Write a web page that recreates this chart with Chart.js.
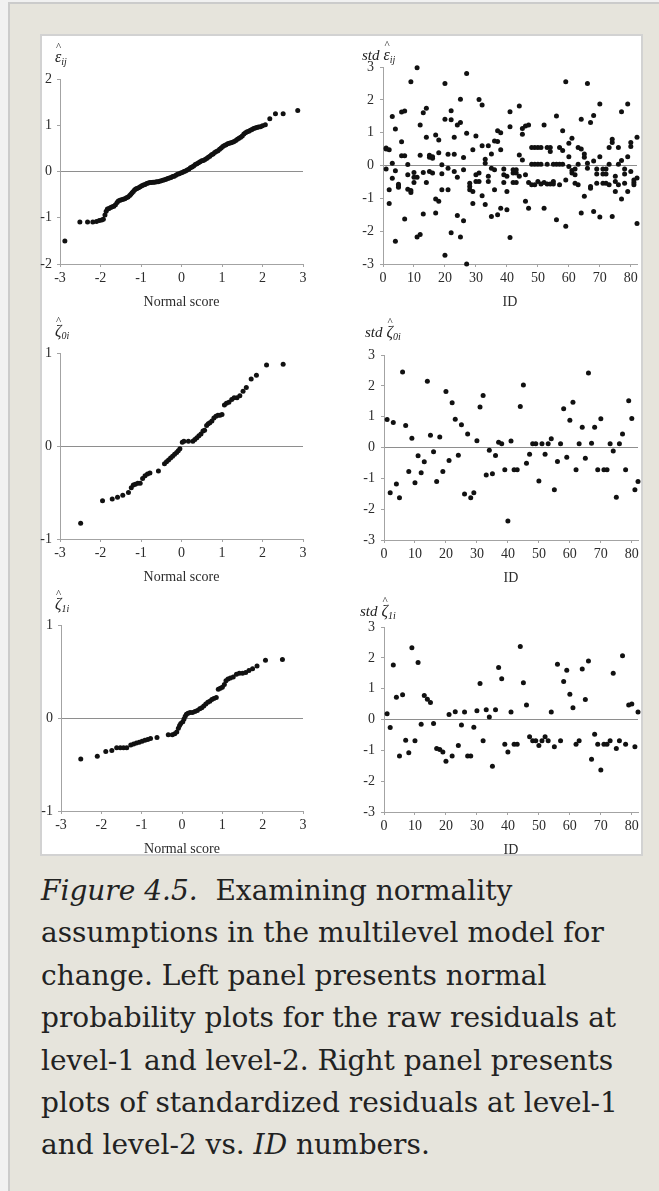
<!DOCTYPE html>
<html>
<head>
<meta charset="utf-8">
<title>Figure 4.5</title>
<script src="https://cdn.jsdelivr.net/npm/chart.js"></script>
<style>
  html, body { margin: 0; padding: 0; }
  body { width: 659px; height: 1191px; overflow: hidden; position: relative; background: #f1f1f1; }
  #page { position: absolute; left: 8px; top: 2px; width: 700px; height: 1250px; background: #e6e4dc;
          border-left: 2px solid #cbcbcb; border-top: 2px solid #cbcbcb; }
  #figure { position: absolute; left: 40px; top: 34px; width: 599px; height: 818px; background: #fff;
            border: 2px solid #d2d2d2; }
  canvas { position: absolute; }
  .ylab { position: absolute; font: italic 16px/16px "Liberation Serif", serif; color: #222; white-space: nowrap; }
  .ylab .std { font-size: 15px; }
  .ylab .g { position: relative; }
  .ylab .hat { position: absolute; left: 1px; top: -7px; font: normal 11px/11px "Liberation Serif", serif; }
  .ylab sub { font-size: 10px; line-height: 0; vertical-align: -3px; }
  #caption { position: absolute; left: 41px; top: 870px; width: 601px; font: 28px/42.4px "DejaVu Serif", serif; color: #222; }
</style>
</head>
<body>
<div id="page"></div>
<div id="figure"></div>

<canvas id="epsQQ"></canvas>
<canvas id="epsById"></canvas>
<canvas id="zeta0QQ"></canvas>
<canvas id="zeta0ById"></canvas>
<canvas id="zeta1QQ"></canvas>
<canvas id="zeta1ById"></canvas>

<div class="ylab" style="left:55px;top:49px"><span class="g">ε<span class="hat">^</span></span><sub>ij</sub></div>
<div class="ylab" style="left:362px;top:47px"><span class="std">std</span> <span class="g">ε<span class="hat">^</span></span><sub>ij</sub></div>
<div class="ylab" style="left:55px;top:323px"><span class="g">ζ<span class="hat">^</span></span><sub>0i</sub></div>
<div class="ylab" style="left:365px;top:324px"><span class="std">std</span> <span class="g">ζ<span class="hat">^</span></span><sub>0i</sub></div>
<div class="ylab" style="left:55px;top:596px"><span class="g">ζ<span class="hat">^</span></span><sub>1i</sub></div>
<div class="ylab" style="left:360px;top:603px"><span class="std">std</span> <span class="g">ζ<span class="hat">^</span></span><sub>1i</sub></div>

<div id="caption"><i>Figure 4.5.</i>&nbsp; Examining normality assumptions in the multilevel model for change. Left panel presents normal probability plots for the raw residuals at level-1 and level-2. Right panel presents plots of standardized residuals at level-1 and level-2 vs. <i>ID</i> numbers.</div>

<script>
// level-1 raw residuals against their normal scores
var epsScore = [
  -2.88, -2.51, -2.32, -2.19, -2.10, -2.03, -1.97, -1.93, -1.89, -1.86,
  -1.83, -1.79, -1.75, -1.71, -1.67, -1.63, -1.59, -1.56, -1.52, -1.48,
  -1.44, -1.40, -1.36, -1.32, -1.28, -1.25, -1.22, -1.19, -1.16, -1.13,
  -1.10, -1.06, -1.02, -0.98, -0.94, -0.90, -0.86, -0.82, -0.78, -0.74,
  -0.70, -0.66, -0.62, -0.58, -0.54, -0.50, -0.46, -0.42, -0.38, -0.34,
  -0.30, -0.26, -0.22, -0.18, -0.14, -0.10, -0.06, -0.02, 0.02, 0.06,
  0.10, 0.14, 0.18, 0.22, 0.26, 0.30, 0.34, 0.38, 0.42, 0.46,
  0.50, 0.54, 0.58, 0.62, 0.66, 0.70, 0.74, 0.78, 0.82, 0.86,
  0.90, 0.94, 0.98, 1.02, 1.06, 1.10, 1.14, 1.18, 1.22, 1.26,
  1.30, 1.34, 1.38, 1.42, 1.46, 1.50, 1.54, 1.58, 1.62, 1.66,
  1.70, 1.74, 1.78, 1.82, 1.86, 1.90, 1.95, 2.00, 2.07, 2.18,
  2.32, 2.51, 2.87
];
var epsRaw = [
  -1.50, -1.09, -1.09, -1.09, -1.08, -1.06, -1.05, -1.03, -0.94, -0.86,
  -0.81, -0.80, -0.78, -0.76, -0.75, -0.72, -0.67, -0.64, -0.62, -0.61,
  -0.60, -0.59, -0.57, -0.55, -0.52, -0.49, -0.46, -0.43, -0.40, -0.38,
  -0.37, -0.35, -0.33, -0.31, -0.29, -0.28, -0.26, -0.25, -0.24, -0.24,
  -0.23, -0.23, -0.22, -0.22, -0.21, -0.20, -0.19, -0.18, -0.17, -0.15,
  -0.14, -0.13, -0.11, -0.10, -0.08, -0.06, -0.05, -0.03, -0.02, 0.00,
  0.01, 0.03, 0.05, 0.08, 0.10, 0.12, 0.15, 0.17, 0.19, 0.21,
  0.23, 0.24, 0.26, 0.28, 0.31, 0.33, 0.36, 0.38, 0.41, 0.43,
  0.45, 0.48, 0.51, 0.54, 0.56, 0.58, 0.60, 0.61, 0.62, 0.63,
  0.65, 0.67, 0.70, 0.72, 0.74, 0.77, 0.81, 0.84, 0.86, 0.87,
  0.89, 0.91, 0.93, 0.94, 0.95, 0.96, 0.97, 0.99, 1.01, 1.14,
  1.25, 1.25, 1.32
];

// level-2 residuals (initial status, rate of change) against normal scores
var zeta0Score = [
  -2.49, -1.95, -1.71, -1.58, -1.45, -1.31, -1.24, -1.19, -1.14, -1.08,
  -1.02, -0.96, -0.90, -0.84, -0.78, -0.57, -0.42, -0.37, -0.32, -0.27,
  -0.22, -0.17, -0.12, -0.08, -0.04, 0.02, 0.06, 0.17, 0.28, 0.33,
  0.38, 0.43, 0.48, 0.53, 0.57, 0.62, 0.66, 0.70, 0.75, 0.80,
  0.85, 0.90, 0.95, 1.00, 1.06, 1.11, 1.17, 1.24, 1.30, 1.37,
  1.44, 1.52, 1.60, 1.72, 1.85, 2.10, 2.51
];
var zeta0Raw = [
  -0.83, -0.59, -0.57, -0.55, -0.53, -0.50, -0.45, -0.42, -0.41, -0.40,
  -0.40, -0.35, -0.32, -0.30, -0.29, -0.27, -0.19, -0.17, -0.15, -0.13,
  -0.11, -0.09, -0.07, -0.05, -0.03, 0.04, 0.05, 0.05, 0.05, 0.07,
  0.09, 0.11, 0.13, 0.16, 0.17, 0.22, 0.24, 0.25, 0.27, 0.30,
  0.32, 0.33, 0.33, 0.34, 0.44, 0.46, 0.47, 0.50, 0.52, 0.52,
  0.54, 0.59, 0.63, 0.72, 0.76, 0.87, 0.88
];
var zeta1Score = [
  -2.51, -2.10, -1.89, -1.74, -1.62, -1.53, -1.45, -1.37, -1.27, -1.20,
  -1.13, -1.06, -0.99, -0.92, -0.85, -0.78, -0.62, -0.34, -0.24, -0.18,
  -0.13, -0.09, -0.06, -0.03, 0.02, 0.05, 0.08, 0.11, 0.15, 0.20,
  0.26, 0.32, 0.38, 0.44, 0.49, 0.54, 0.59, 0.64, 0.69, 0.74,
  0.79, 0.85, 0.90, 0.95, 1.00, 1.05, 1.09, 1.14, 1.20, 1.27,
  1.35, 1.42, 1.50, 1.58, 1.66, 1.75, 1.86, 2.07, 2.49
];
var zeta1Raw = [
  -0.44, -0.41, -0.36, -0.35, -0.32, -0.32, -0.32, -0.32, -0.29, -0.28,
  -0.27, -0.26, -0.25, -0.24, -0.23, -0.22, -0.21, -0.18, -0.18, -0.17,
  -0.15, -0.11, -0.08, -0.06, -0.04, -0.01, 0.02, 0.04, 0.05, 0.06,
  0.06, 0.07, 0.08, 0.10, 0.11, 0.13, 0.15, 0.17, 0.18, 0.20,
  0.21, 0.22, 0.31, 0.32, 0.33, 0.36, 0.40, 0.42, 0.43, 0.44,
  0.47, 0.48, 0.48, 0.49, 0.51, 0.53, 0.56, 0.62, 0.63
];

// standardized residuals by person ID
var ids = [
  1, 2, 3, 4, 5, 6, 7, 8, 9, 10, 11, 12, 13, 14, 15, 16, 17, 18, 19, 20,
  21, 22, 23, 24, 25, 26, 27, 28, 29, 30, 31, 32, 33, 34, 35, 36, 37, 38, 39, 40,
  41, 42, 43, 44, 45, 46, 47, 48, 49, 50, 51, 52, 53, 54, 55, 56, 57, 58, 59, 60,
  61, 62, 63, 64, 65, 66, 67, 68, 69, 70, 71, 72, 73, 74, 75, 76, 77, 78, 79, 80,
  81, 82
];
// three occasions per person for the level-1 residuals
var stdEps1 = [
  0.53, 0.48, 1.49, 1.11, -0.57, 1.63, 1.66, 0.03, 2.55, -0.21,
  2.98, 1.23, 1.61, 1.74, 0.31, 0.27, 0.93, 0.78, 0.02, 2.50,
  0.34, 1.67, 0.86, 1.23, 2.02, 0.24, 2.80, -0.54, 0.48, 0.90,
  2.01, 1.84, 0.19, 0.60, 0.35, 0.75, 1.06, 1.00, -0.11, -0.33,
  1.64, -0.13, -0.13, 1.81, 1.13, 1.20, 1.23, 0.55, 0.55, 0.55,
  0.55, 1.23, 0.55, 0.55, 0.04, 1.51, 0.55, 1.06, 2.55, 0.68,
  0.83, -0.11, 0.55, 1.41, 0.35, 2.50, 1.31, 1.52, -0.11, 1.87,
  -0.11, -0.11, 0.55, 0.80, -0.33, 0.55, 1.64, -0.11, 1.87, 0.70,
  -0.44, 0.86
];
var stdEps2 = [
  0.50, -0.74, 0.07, -0.16, -0.62, 0.72, 0.30, -0.28, -0.76, -0.36,
  -0.36, 0.31, -0.21, 0.86, 0.25, 0.22, -1.02, 0.39, -0.25, 1.41,
  -0.08, 1.39, 0.34, -0.36, 1.31, -0.13, 0.98, -0.64, -0.79, -0.28,
  -0.23, 0.60, 0.07, -0.33, -0.08, -0.13, 0.73, 0.48, -0.28, -0.79,
  1.18, -0.23, -0.23, 0.32, 0.95, -0.28, -0.52, 0.04, 0.04, 0.04,
  0.04, -0.52, 0.04, 0.43, -0.49, 0.04, 0.04, 0.46, -0.44, 0.27,
  -0.15, -0.28, 0.04, 0.50, 0.25, 0.07, -0.64, 0.14, -0.26, 0.27,
  -0.26, -0.26, 0.04, 0.70, -0.49, 0.04, 0.15, -0.26, 0.27, 0.58,
  -0.52, -0.38
];
var stdEps3 = [
  -0.11, -1.16, -0.39, -2.31, -0.66, 0.30, -1.63, -0.72, -0.82, -0.52,
  -2.18, -2.10, -1.48, -0.52, -0.18, -0.23, -1.45, -1.09, -0.74, -2.73,
  -0.74, -2.05, -0.18, -1.52, -2.18, -1.68, -3.00, -0.74, -1.16, -0.49,
  -0.49, -0.92, -1.19, -0.49, -1.55, -0.74, -1.50, -1.30, -0.52, -1.35,
  -2.19, -0.52, -0.52, -0.33, 0.17, -1.09, -1.30, -0.59, -0.59, -0.49,
  -0.56, -1.30, -0.56, -0.56, -0.56, -1.65, -0.59, 0.04, -1.85, -0.03,
  -0.23, -0.54, -0.59, -1.45, -0.94, -0.08, -0.69, -1.40, -0.54, -1.57,
  -0.54, -0.54, -0.59, -1.55, -0.79, -0.59, -1.02, -0.54, -0.79, -0.18,
  -0.59, -1.77
];
var stdZeta0 = [
  0.91, -1.47, 0.81, -1.18, -1.63, 2.45, 0.71, -0.78, 0.30, -1.14,
  -0.27, -0.82, -0.46, 2.15, 0.40, -0.14, -1.10, 0.34, -0.78, 1.82,
  -0.42, 1.45, 0.92, -0.25, 0.74, -1.51, 0.44, -1.63, -1.47, 0.22,
  1.31, 1.69, -0.89, -0.09, -0.85, -0.26, 0.17, 0.12, -0.72, -2.38,
  0.21, -0.72, -0.72, 1.33, 2.03, -0.51, -0.22, 0.12, 0.12, -1.09,
  0.12, -0.22, 0.12, 0.28, -1.37, -0.45, 0.12, 1.26, -0.32, 0.88,
  1.47, -0.72, 0.12, 0.66, -0.35, 2.42, 0.14, 0.66, -0.72, 0.93,
  -0.72, -0.72, 0.12, -0.11, -1.61, 0.12, 0.44, -0.72, 1.52, 0.94,
  -1.37, -1.10
];
var stdZeta1 = [
  0.19, -0.26, 1.77, 0.72, -1.18, 0.80, -0.67, -1.08, 2.33, -0.69,
  1.85, -0.15, 0.78, 0.66, 0.55, -0.13, -0.94, -0.97, -1.05, -1.35,
  0.16, -1.18, 0.25, -0.84, -0.18, 0.24, -1.18, -1.18, -0.25, 0.28,
  1.17, -0.69, 0.32, 0.08, -1.52, 0.32, 1.69, 1.32, -0.80, -1.05,
  0.24, -0.80, -0.80, 2.37, 1.19, 0.47, -0.56, -0.69, -0.69, -0.84,
  -0.69, -0.56, -0.69, 0.24, -0.88, 1.79, -0.69, 1.23, 1.60, 0.82,
  0.38, -0.80, -0.69, 1.64, 0.65, 1.90, -1.29, -0.48, -0.80, -1.64,
  -0.80, -0.80, -0.69, 1.50, -0.94, -0.69, 2.07, -0.80, 0.47, 0.50,
  -0.88, 0.24
];

var AXIS = '#a3a3a3';
var ZERO = '#8e8e8e';
var INK = '#2b2b2b';
var SERIF = '"Liberation Serif", serif';

// one scatter panel; area = plot rectangle in page pixels
function residualPlot(canvasId, area, sets, xAxis, yAxis, xTitle, tickGap) {
  var pad = { left: 46, top: 14, right: 12, bottom: 50 };
  var cv = document.getElementById(canvasId);
  cv.width = area.r - area.l + pad.left + pad.right;
  cv.height = area.b - area.t + pad.top + pad.bottom;
  cv.style.left = (area.l - pad.left) + 'px';
  cv.style.top = (area.t - pad.top) + 'px';

  return new Chart(cv, {
    type: 'scatter',
    data: {
      datasets: sets.map(function (s) {
        return {
          data: s.x.map(function (x, i) { return { x: x, y: s.y[i] }; }),
          pointRadius: 2.5,
          pointBackgroundColor: '#111',
          pointBorderWidth: 0,
          clip: false
        };
      })
    },
    options: {
      responsive: false,
      animation: false,
      events: [],
      layout: { padding: { left: 0, top: pad.top, right: pad.right, bottom: 0 } },
      plugins: { legend: { display: false }, tooltip: { enabled: false } },
      scales: {
        x: {
          type: 'linear',
          min: xAxis.min,
          max: xAxis.max,
          afterFit: function (s) { s.height = pad.bottom; s.paddingLeft = 0; s.paddingRight = 0; },
          ticks: { stepSize: xAxis.step, includeBounds: false, autoSkip: false, maxRotation: 0,
                   padding: 3, color: INK, font: { family: SERIF, size: 14 } },
          grid: { drawOnChartArea: false, tickLength: 3, tickColor: AXIS },
          border: { color: AXIS },
          title: { display: true, text: xTitle, color: INK, font: { family: SERIF, size: 14 },
                   padding: { top: 0, bottom: 3 } }
        },
        y: {
          type: 'linear',
          min: yAxis.min,
          max: yAxis.max,
          afterFit: function (s) { s.width = pad.left; s.paddingTop = 0; s.paddingBottom = 0; },
          ticks: { stepSize: 1, autoSkip: false, padding: tickGap, color: INK, font: { family: SERIF, size: 14 } },
          grid: {
            color: function (c) { return c.tick && c.tick.value === 0 ? ZERO : 'rgba(0,0,0,0)'; },
            tickLength: 3,
            tickColor: AXIS
          },
          border: { color: AXIS }
        }
      }
    }
  });
}

var normalAxis = { min: -3, max: 3, step: 1 };
var idAxis = { min: 0, max: 82, step: 10 };
var stdAxis = { min: -3, max: 3 };

residualPlot('epsQQ', { l: 60, r: 303, t: 79, b: 264 },
  [{ x: epsScore, y: epsRaw }], normalAxis, { min: -2, max: 2 }, 'Normal score', 5);
residualPlot('epsById', { l: 383, r: 637, t: 67, b: 264 },
  [{ x: ids, y: stdEps1 }, { x: ids, y: stdEps2 }, { x: ids, y: stdEps3 }], idAxis, stdAxis, 'ID', 6);

residualPlot('zeta0QQ', { l: 60, r: 303, t: 353, b: 539 },
  [{ x: zeta0Score, y: zeta0Raw }], normalAxis, { min: -1, max: 1 }, 'Normal score', 5);
residualPlot('zeta0ById', { l: 384, r: 638, t: 355, b: 540 },
  [{ x: ids, y: stdZeta0 }], idAxis, stdAxis, 'ID', 6);

residualPlot('zeta1QQ', { l: 61, r: 303, t: 625, b: 811 },
  [{ x: zeta1Score, y: zeta1Raw }], normalAxis, { min: -1, max: 1 }, 'Normal score', 5);
residualPlot('zeta1ById', { l: 384, r: 638, t: 627, b: 812 },
  [{ x: ids, y: stdZeta1 }], idAxis, stdAxis, 'ID', 6);
</script>
</body>
</html>
